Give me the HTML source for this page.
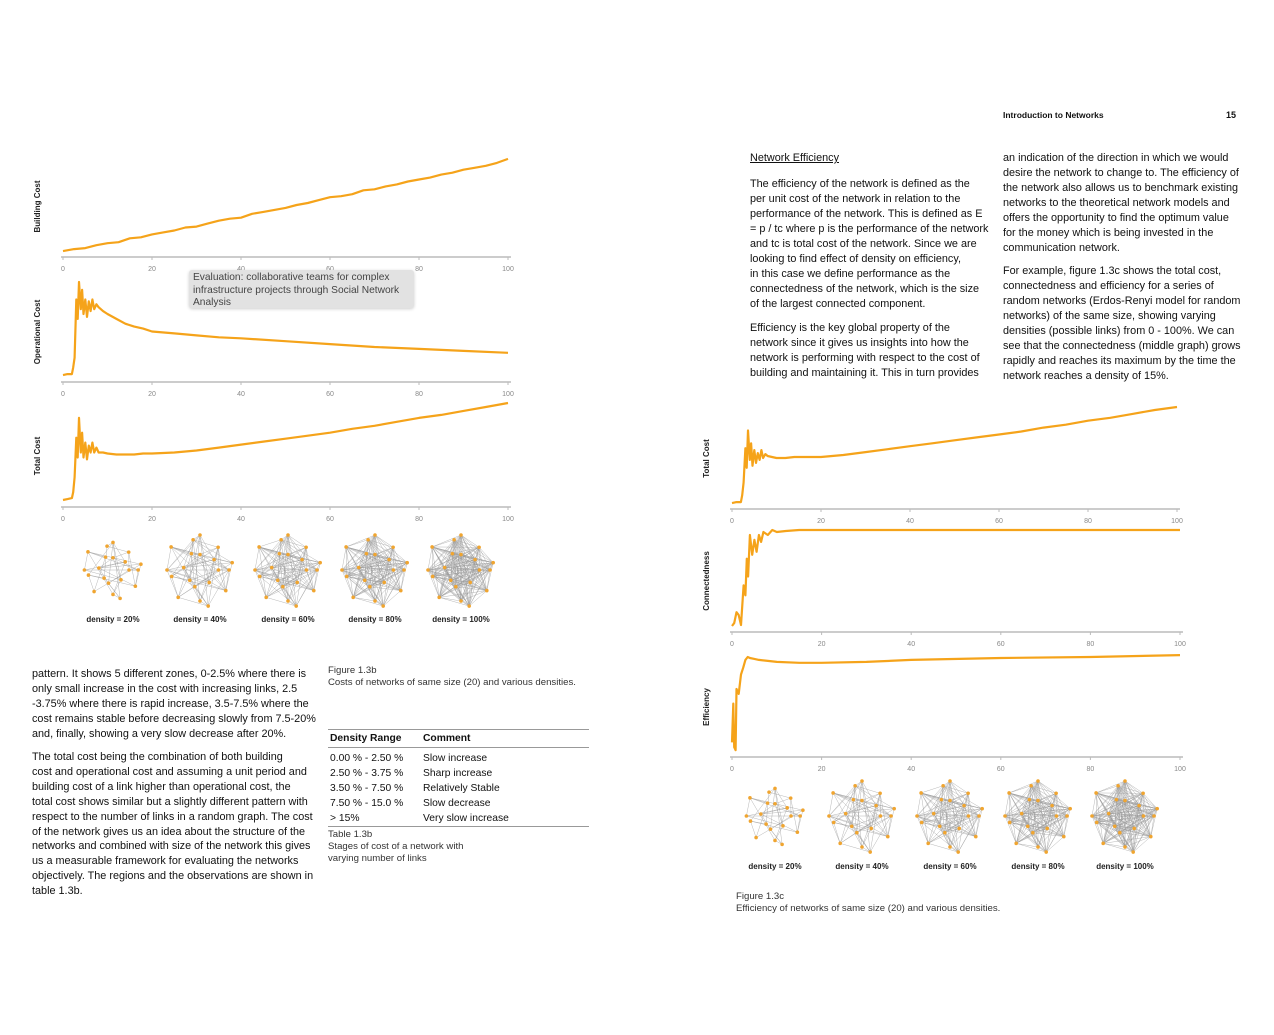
<!DOCTYPE html>
<html><head><meta charset="utf-8">
<style>
body{margin:0;width:1274px;height:1035px;background:#fff;position:relative;overflow:hidden;font-family:"Liberation Sans",sans-serif;color:#111}
.t{position:absolute;font-size:10.85px;line-height:15px;white-space:nowrap}
.s{position:absolute;font-size:9.6px;line-height:12px;white-space:nowrap;color:#333}
svg{position:absolute;left:0;top:0}
.tb{position:absolute;left:328px;top:729px;width:261px;border-top:1.5px solid #999;border-bottom:1.5px solid #999;font-size:10.3px}
.tb div{display:flex;height:15px;line-height:15px}
.tb span:first-child{width:93px;padding-left:2px}
</style></head><body>
<div class="t" style="left:1003px;top:108px;font-size:8.5px;font-weight:bold">Introduction to Networks</div>
<div class="t" style="left:1226px;top:108px;font-size:9px;font-weight:bold">15</div>

<div class="t" style="left:750px;top:151px;text-decoration:underline">Network Efficiency</div>
<div class="t" style="left:750px;top:177px">The efficiency of the network is defined as the<br>per unit cost of the network in relation to the<br>performance of the network. This is defined as E<br>= p / tc where p is the performance of the network<br>and tc is total cost of the network. Since we are<br>looking to find effect of density on efficiency,<br>in this case we define performance as the<br>connectedness of the network, which is the size<br>of the largest connected component.</div>
<div class="t" style="left:750px;top:321px">Efficiency is the key global property of the<br>network since it gives us insights into how the<br>network is performing with respect to the cost of<br>building and maintaining it. This in turn provides</div>
<div class="t" style="left:1003px;top:151px">an indication of the direction in which we would<br>desire the network to change to. The efficiency of<br>the network also allows us to benchmark existing<br>networks to the theoretical network models and<br>offers the opportunity to find the optimum value<br>for the money which is being invested in the<br>communication network.</div>
<div class="t" style="left:1003px;top:264px">For example, figure 1.3c shows the total cost,<br>connectedness and efficiency for a series of<br>random networks (Erdos-Renyi model for random<br>networks) of the same size, showing varying<br>densities (possible links) from 0 - 100%. We can<br>see that the connectedness (middle graph) grows<br>rapidly and reaches its maximum by the time the<br>network reaches a density of 15%.</div>

<div class="t" style="left:32px;top:667px">pattern. It shows 5 different zones, 0-2.5% where there is<br>only small increase in the cost with increasing links, 2.5<br>-3.75% where there is rapid increase, 3.5-7.5% where the<br>cost remains stable before decreasing slowly from 7.5-20%<br>and, finally, showing a very slow decrease after 20%.</div>
<div class="t" style="left:32px;top:750px;line-height:14.9px">The total cost being the combination of both building<br>cost and operational cost and assuming a unit period and<br>building cost of a link higher than operational cost, the<br>total cost shows similar but a slightly different pattern with<br>respect to the number of links in a random graph. The cost<br>of the network gives us an idea about the structure of the<br>networks and combined with size of the network this gives<br>us a measurable framework for evaluating the networks<br>objectively. The regions and the observations are shown in<br>table 1.3b.</div>

<div class="s" style="left:328px;top:665px">Figure 1.3b<br>Costs of networks of same size (20) and various densities.</div>
<div class="tb">
<div style="font-weight:bold;border-bottom:1.5px solid #999;height:17px;line-height:17px;margin-bottom:3px"><span>Density Range</span><span>Comment</span></div>
<div><span>0.00 % - 2.50 %</span><span>Slow increase</span></div>
<div><span>2.50 % - 3.75 %</span><span>Sharp increase</span></div>
<div><span>3.50 % - 7.50 %</span><span>Relatively Stable</span></div>
<div><span>7.50 % - 15.0 %</span><span>Slow decrease</span></div>
<div><span>&gt; 15%</span><span>Very slow increase</span></div>
</div>
<div class="s" style="left:328px;top:829px">Table 1.3b<br>Stages of cost of a network with<br>varying number of links</div>
<div class="s" style="left:736px;top:891px">Figure 1.3c<br>Efficiency of networks of same size (20) and various densities.</div>

<svg id="chart" width="1274" height="1035"></svg>

<div style="position:absolute;left:189px;top:270px;width:217px;height:34px;padding:2px 4px;background:#e2e2e2;border-radius:3px;box-shadow:0 1px 3px rgba(0,0,0,.2);font-size:10.2px;line-height:12.5px;color:#444">Evaluation: collaborative teams for complex infrastructure projects through Social Network Analysis</div>

<script>
const xTicks=[0,20,40,60,80,100];
const buildX=[0,2.5,5,7.5,10,12.5,15,17.5,20,22.5,25,27.5,30,32.5,35,37.5,40,42.5,45,47.5,50,52.5,55,57.5,60,62.5,65,67.5,70,72.5,75,77.5,80,82.5,85,87.5,90,92.5,95,97.5,100];
const buildY=[3,5,6,9,11,12,16,17,20,22,24,27,28,31,34,36,37,41,43,45,47,50,52,55,58,59,61,65,66,69,71,74,76,78,81,83,86,88,90,93,97];
const opX=[0,1,2,2.3,2.6,3,3.3,3.6,4,4.3,4.6,5,5.4,5.8,6.2,6.6,7,7.5,8,9,10,12,14,16,18,20,25,30,35,40,50,60,70,80,90,100];
const opY=[4,5,5,12,22,82,62,100,72,92,67,82,64,80,70,82,72,77,74,70,67,62,57,54,52,49,47,45,43,42,39,36,33,31,29,27];
const totX=[0,1,2,2.3,2.6,3,3.3,3.6,4,4.3,4.6,5,5.4,5.8,6.2,6.6,7,7.5,8,9,10,12,14,16,18,20,25,30,35,40,45,50,55,60,65,70,75,80,85,90,95,100];
const totLY=[4,5,6,12,27,67,47,87,52,72,47,62,45,59,52,62,52,57,52,52,51,50,50,50,51,51,52,54,57,60,63,66,69,72,76,79,83,87,90,94,98,102];
const totRY=[3,4,4,11,24,59,39,77,47,64,41,57,44,54,47,57,49,53,51,50,49,49,50,50,50,50,52,55,58,61,64,67,70,73,76,80,83,87,90,94,98,101];
const conX=[0,0.5,1,1.5,2,2.3,2.6,3,3.3,3.6,4,4.5,5,5.5,6,6.5,7,8,9,10,12,15,20,40,60,80,100];
const conY=[3,6,17,14,4,24,44,34,71,53,95,75,90,78,95,88,98,95,100,98,99,100,100,100,100,100,100];
const effX=[0,0.3,0.5,0.8,1,1.5,2,2.5,3,3.5,4,5,6,8,10,15,20,30,40,60,80,100];
const effY=[12,52,7,4,67,62,82,89,97,100,99,98,97,96,95,94,94,95,97,99,100,102];
const densities=["20%","40%","60%","80%","100%"];

const svg=document.getElementById('chart');
const NS='http://www.w3.org/2000/svg';
function mk(t,a){const e=document.createElementNS(NS,t);for(const k in a)e.setAttribute(k,a[k]);svg.appendChild(e);return e;}
function chart(name,label,x0,x1,axisY,y100,xs,ys){
  const sx=v=>x0+(x1-x0)*v/100, sy=v=>axisY-3+(y100-(axisY-3))*v/100;
  const ax=mk('line',{x1:x0-2,x2:x1+3,y1:axisY,y2:axisY,stroke:'#bbb','stroke-width':1.5});
  
  
  xTicks.forEach(t=>{
    const tk=mk('line',{x1:sx(t),x2:sx(t),y1:axisY,y2:axisY+3,stroke:'#bbb'});
    
    
    const tl=mk('text',{x:sx(t),y:axisY+14,'font-size':7,fill:'#888','text-anchor':'middle','font-family':'Liberation Sans'});
    tl.textContent=t;
    
    
  });
  const yl=mk('text',{x:0,y:0,'font-size':8,'font-weight':'bold',fill:'#222','text-anchor':'middle','font-family':'Liberation Sans',transform:`translate(${x0-23},${(axisY+y100)/2}) rotate(-90)`});
  yl.textContent=label;
  
  
  const d=xs.map((x,i)=>(i?'L':'M')+sx(x).toFixed(1)+','+sy(ys[i]).toFixed(1)).join('');
  const p=mk('path',{d:d,fill:'none',stroke:'#f5a31a','stroke-width':2.2,'stroke-linejoin':'round'});
  
  
}
chart('building-cost','Building Cost',63,508,257,156,buildX,buildY);
chart('operational-cost','Operational Cost',63,508,382,282,opX,opY);
chart('total-cost-left','Total Cost',63,508,507,405,totX,totLY);
chart('total-cost-right','Total Cost',732,1177,509,408,totX,totRY);
chart('connectedness','Connectedness',732,1180,632,530,conX,conY);
chart('efficiency','Efficiency',732,1180,757,657,effX,effY);

function network(cx,cy,dens,lbl,ly){
  const n=20,pts=[];
  for(let i=0;i<n;i++){
    const ring=i<12?1:0.5, a=(i<12?i/12:(i-12)/8)*Math.PI*2+(i%3)*0.15;
    const r=(dens<0.3?26:33)*ring*(1+((i*7)%5-2)*0.06);
    pts.push([cx+r*Math.cos(a)*(dens<0.3?1.1:1),cy+r*Math.sin(a)]);
  }
  for(let i=0;i<n;i++)for(let j=i+1;j<n;j++){
    if(((i*31+j*17)%100)/100<dens){
      const l=mk('line',{x1:pts[i][0],y1:pts[i][1],x2:pts[j][0],y2:pts[j][1],stroke:'#999','stroke-width':0.5,'stroke-opacity':0.7});
      
      
    }
  }
  pts.forEach(p=>{const c=mk('circle',{cx:p[0],cy:p[1],r:1.8,fill:'#f0a530'});
    
    });
  const t=mk('text',{x:cx,y:ly,'font-size':8,'font-weight':'bold',fill:'#222','text-anchor':'middle','font-family':'Liberation Sans'});
  t.textContent='density = '+lbl;
  
  
}
const vals=[0.2,0.4,0.6,0.8,1.0];
[113,200,288,375,461].forEach((x,i)=>network(x,570,vals[i],densities[i],622));
[775,862,950,1038,1125].forEach((x,i)=>network(x,816,vals[i],densities[i],869));
</script>
</body></html>
